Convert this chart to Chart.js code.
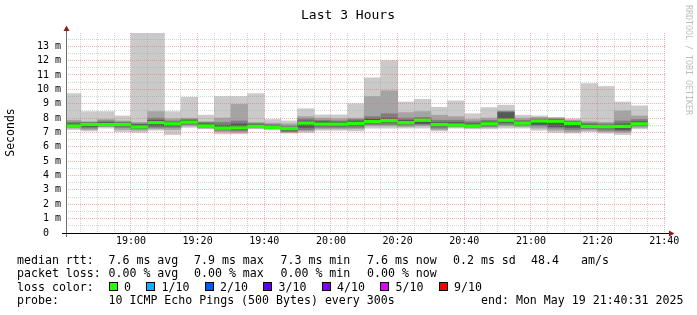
<!DOCTYPE html>
<html><head><meta charset="utf-8">
<script src="https://cdn.jsdelivr.net/npm/chart.js@4/dist/chart.umd.min.js"></script>
<style>html,body{margin:0;padding:0;background:#fff;overflow:hidden}canvas{display:block}</style>
</head><body>
<canvas id="c" width="697" height="315"></canvas>
<script>
// ---- data ----
const slotStart = ['18:40','18:45','18:50','18:55','19:00','19:05','19:10','19:15','19:20','19:25','19:30','19:35',
  '19:40','19:45','19:50','19:55','20:00','20:05','20:10','20:15','20:20','20:25','20:30','20:35',
  '20:40','20:45','20:50','20:55','21:00','21:05','21:10','21:15','21:20','21:25','21:30'];
// 10 sorted ping RTTs (ms) per 5-minute slot
const pingsSorted = [
  [7.2,7.3,7.38,7.42,7.45,7.5,7.6,7.72,7.85,9.7],
  [7.1,7.2,7.3,7.4,7.5,7.6,7.65,7.7,7.75,8.45],
  [7.3,7.4,7.45,7.5,7.55,7.6,7.7,7.8,7.9,8.45],
  [7.05,7.2,7.35,7.45,7.5,7.6,7.65,7.72,7.8,8.15],
  [7.0,7.15,7.25,7.3,7.35,7.45,7.55,7.6,7.7,14.5],
  [7.15,7.25,7.35,7.45,7.6,7.75,7.85,8.0,8.45,14.5],
  [6.85,7.2,7.35,7.45,7.55,7.65,7.7,7.8,7.95,8.45],
  [7.35,7.45,7.55,7.65,7.7,7.8,7.85,7.9,8.0,9.45],
  [7.25,7.3,7.38,7.42,7.45,7.5,7.6,7.7,7.75,8.2],
  [6.9,7.05,7.15,7.25,7.3,7.35,7.5,7.7,8.0,9.5],
  [6.9,7.0,7.1,7.2,7.3,7.4,7.6,7.8,8.95,9.5],
  [7.25,7.3,7.35,7.4,7.43,7.47,7.55,7.62,7.7,9.7],
  [7.2,7.25,7.3,7.33,7.36,7.4,7.45,7.55,7.65,7.9],
  [6.95,7.0,7.05,7.15,7.25,7.3,7.35,7.45,7.6,7.8],
  [7.0,7.1,7.2,7.35,7.6,7.7,7.8,7.95,8.1,8.65],
  [7.15,7.25,7.35,7.45,7.55,7.65,7.75,7.85,8.0,8.22],
  [7.15,7.25,7.35,7.45,7.55,7.65,7.72,7.8,7.95,8.22],
  [7.1,7.25,7.35,7.5,7.62,7.7,7.8,7.9,8.0,9.0],
  [7.3,7.45,7.55,7.65,7.75,7.85,7.95,8.1,9.5,10.8],
  [7.3,7.45,7.55,7.7,7.8,7.9,8.0,8.3,9.9,12.0],
  [7.3,7.4,7.5,7.6,7.68,7.75,7.85,8.0,8.38,9.12],
  [7.3,7.45,7.55,7.62,7.8,7.9,7.95,8.05,8.45,9.3],
  [7.1,7.2,7.3,7.45,7.5,7.6,7.7,7.85,8.2,8.75],
  [7.3,7.38,7.43,7.48,7.52,7.58,7.7,7.85,8.1,9.2],
  [7.25,7.32,7.38,7.42,7.45,7.5,7.6,7.75,7.9,8.3],
  [7.25,7.35,7.42,7.5,7.58,7.65,7.72,7.85,8.0,8.73],
  [7.3,7.45,7.55,7.7,7.8,7.9,8.38,8.45,8.5,8.9],
  [7.3,7.4,7.5,7.58,7.63,7.68,7.75,7.85,8.0,8.2],
  [7.15,7.3,7.45,7.55,7.75,7.85,7.9,7.95,8.05,8.15],
  [7.0,7.15,7.3,7.4,7.7,7.85,7.9,7.95,8.0,8.05],
  [6.95,7.05,7.2,7.35,7.5,7.65,7.7,7.78,7.85,7.95],
  [7.05,7.15,7.25,7.32,7.38,7.45,7.55,7.65,7.75,10.4],
  [6.95,7.05,7.15,7.3,7.38,7.43,7.5,7.6,7.7,10.2],
  [6.85,7.0,7.1,7.2,7.35,7.45,7.6,7.8,8.5,9.12],
  [7.25,7.35,7.45,7.52,7.58,7.65,7.75,7.9,8.15,8.85]
];
const medianRtt = [7.45,7.55,7.55,7.55,7.38,7.68,7.6,7.72,7.45,7.3,7.32,7.42,7.35,7.27,7.65,7.58,7.58,7.63,
  7.75,7.82,7.68,7.85,7.55,7.52,7.45,7.6,7.85,7.65,7.8,7.78,7.62,7.42,7.4,7.42,7.6];
const xTickLabels = ['19:00','19:20','19:40','20:00','20:20','20:40','21:00','21:20','21:40'];
const yTickLabels = [0,1,2,3,4,5,6,7,8,9,10,11,12,13];
const rttStats = ['7.6 ms avg','7.9 ms max','7.3 ms min','7.6 ms now','0.2 ms sd','48.4','am/s'];
const lossStats = ['0.00 % avg','0.00 % max','0.00 % min','0.00 % now'];
const lossLabels = ['0','1/10','2/10','3/10','4/10','5/10','9/10'];
const lossColors = ['#26ff00','#00b8ff','#0059ff','#5e00ff','#7e00ff','#dd00ff','#ff0000'];
const probeText = '10 ICMP Echo Pings (500 Bytes) every 300s';
const endText = 'end: Mon May 19 21:40:31 2025';
const titleText = 'Last 3 Hours';

// ---- helpers / styles ----
const toMin = s => { const p = s.split(':').map(Number); return (p[0]-18)*60 + p[1]; };
const fmtMin = v => { const h = 18 + Math.floor(v/60), m = Math.round(v%60); return h + ':' + String(m).padStart(2,'0'); };
const xMin = toMin('18:40') + 31/60, xMax = xMin + 180, yMax = 13.92;
const smokeColors = ['#cacaca','#a4a4a4','#7e7e7e','#585858','#323232'];
const MAJOR = 'rgba(235,110,110,0.55)', MINOR = 'rgba(160,160,160,0.45)';
const MONO = '"DejaVu Sans Mono", monospace';
const halfBand = 0.09;

const common = {barPercentage:1, categoryPercentage:1, grouped:false, borderWidth:0, clip:0};
const datasets = [];
datasets.push(Object.assign({label:'median', backgroundColor:'#26ff00',
  data: slotStart.map((s,i)=>({x: toMin(s)+2.5, y:[medianRtt[i]-halfBand, medianRtt[i]+halfBand]}))}, common));
for (let L = 5; L >= 1; L--) {
  datasets.push(Object.assign({label:'smoke'+L, backgroundColor: smokeColors[L-1],
    data: slotStart.map((s,i)=>({x: toMin(s)+2.5, y:[pingsSorted[i][L-1], pingsSorted[i][10-L]]}))}, common));
}

const decor = {
  id:'decor',
  afterDraw(chart){
    const ctx = chart.ctx;
    ctx.save();
    // axes
    ctx.fillStyle = '#707070'; ctx.fillRect(66, 31, 1, 206);
    ctx.fillStyle = '#000'; ctx.fillRect(62, 233, 607, 1);
    ctx.fillStyle = '#8f1f1f';
    ctx.beginPath(); ctx.moveTo(669,230.5); ctx.lineTo(669,236.5); ctx.lineTo(674.5,233.5); ctx.closePath(); ctx.fill();
    ctx.beginPath(); ctx.moveTo(63.5,31); ctx.lineTo(69.5,31); ctx.lineTo(66.5,25.5); ctx.closePath(); ctx.fill();
    // title
    ctx.fillStyle = '#000'; ctx.textBaseline = 'alphabetic';
    ctx.font = '13px ' + MONO; ctx.textAlign = 'center';
    ctx.fillText(titleText, 348, 18.5);
    // y title
    ctx.save(); ctx.translate(11, 132.5); ctx.rotate(-Math.PI/2);
    ctx.font = '11.5px ' + MONO; ctx.textAlign = 'center'; ctx.textBaseline = 'middle';
    ctx.fillText('Seconds', 0, 0); ctx.restore();
    // watermark
    ctx.save(); ctx.translate(685.5, 5); ctx.rotate(Math.PI/2);
    ctx.font = '8.3px ' + MONO; ctx.textAlign = 'left'; ctx.textBaseline = 'alphabetic'; ctx.fillStyle = '#bdbdbd';
    ctx.fillText('RRDTOOL / TOBI OETIKER', 0, 0); ctx.restore();
    // legend
    ctx.font = '11.6px ' + MONO; ctx.textAlign = 'left'; ctx.fillStyle = '#000';
    const cols = [108.5,194,280.5,367,453,531,581];
    ctx.fillText('median rtt:', 17, 263.5);
    rttStats.forEach((t,i)=>ctx.fillText(t, cols[i], 263.5));
    ctx.fillText('packet loss:', 17, 277);
    lossStats.forEach((t,i)=>ctx.fillText(t, cols[i], 277));
    ctx.fillText('loss color:', 17, 290.5);
    let bx = 108.5;
    lossLabels.forEach((t,i)=>{
      ctx.fillStyle = lossColors[i]; ctx.fillRect(Math.round(bx), 282, 9, 9);
      ctx.strokeStyle = '#000'; ctx.lineWidth = 1; ctx.strokeRect(Math.round(bx)+0.5, 282.5, 8, 8);
      ctx.fillStyle = '#000'; ctx.fillText(t, bx+15.5, 290.5);
      bx += 15.5 + t.length*7 + 15;
    });
    ctx.fillText('probe:', 17, 304);
    ctx.fillText(probeText, 108.5, 304);
    ctx.fillText(endText, 481, 304);
    ctx.restore();
  }
};

new Chart(document.getElementById('c'), {
  type:'bar',
  data:{datasets},
  options:{
    responsive:false, animation:false, events:[],
    layout:{padding:{left:0, right:31, top:33, bottom:62}},
    plugins:{legend:{display:false}, title:{display:false}, tooltip:{enabled:false}},
    scales:{
      x:{type:'linear', min:xMin, max:xMax, offset:false,
        afterBuildTicks: s => { const t=[]; for (let v=45; v<=220; v+=5) t.push({value:v}); s.ticks = t; },
        afterFit: s => { s.height = 20; },
        ticks:{autoSkip:false, maxRotation:0, minRotation:0, padding:2, color:'#000', font:{family:MONO, size:10},
          callback: v => { const l = fmtMin(v); return xTickLabels.includes(l) ? l : ''; }},
        grid:{offset:false, z:1, drawTicks:false, lineWidth:1,
          color: c => (c.tick && c.tick.value % 20 === 0) ? MAJOR : MINOR},
        border:{display:false, dash:[1,1]}
      },
      y:{type:'linear', min:0, max:yMax,
        afterBuildTicks: s => { const t=[]; for (let v=0; v<=13.5; v+=0.5) t.push({value:v}); s.ticks = t; },
        afterFit: s => { s.width = 66; },
        ticks:{autoSkip:false, padding:5, color:'#000', font:{family:MONO, size:10},
          callback: v => yTickLabels.includes(v) ? (v === 0 ? '0  ' : v + ' m') : ''},
        grid:{z:1, drawTicks:false, lineWidth:1,
          color: c => { const v = c.tick ? c.tick.value : 0; return v === 0 ? 'rgba(0,0,0,0)' : (v % 1 === 0 ? MAJOR : MINOR); }},
        border:{display:false, dash:[1,1]}
      }
    }
  },
  plugins:[decor]
});
</script>
</body></html>
